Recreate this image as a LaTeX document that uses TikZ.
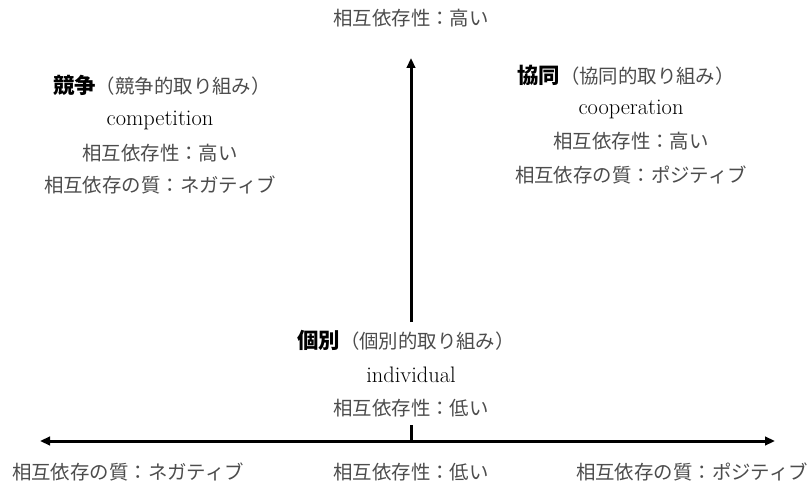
\documentclass[tikz,border=0pt]{standalone}
\usepackage{fontspec}
\newfontfamily\cjk{Noto Sans CJK JP}
\usetikzlibrary{arrows.meta}
\definecolor{jpgray}{gray}{0.3}
\begin{document}
\begin{tikzpicture}[x=1bp,y=-1bp,
  jp/.style={font=\cjk\fontsize{19.5}{22}\selectfont, text=jpgray, inner sep=0pt},
  en/.style={font=\fontsize{22.5}{26}\selectfont, text=black, inner sep=0pt},
  ttl/.style={font=\cjk\fontsize{19.5}{22}\selectfont, text=jpgray, inner sep=0pt},
  axis/.style={line width=3bp, draw=black},
  tip/.style={-{Triangle[length=10bp,width=8.5bp]}}]
\useasboundingbox (0,0) rectangle (811,484);
% top label
\node[jp] (top) at (411,18) {相互依存性：高い};
% competition
\node[ttl] (ct) at (162,85) {{\bfseries\color{black}\fontsize{21.5}{22}\selectfont 競争}（競争的取り組み）};
\node[en] (ce) at (160,120) {competition};
\node[jp] (ch) at (160,153) {相互依存性：高い};
\node[jp] (cq) at (160,185) {相互依存の質：ネガティブ};
% cooperation
\node[ttl] (pt) at (626,75) {{\bfseries\color{black}\fontsize{21.5}{22}\selectfont 協同}（協同的取り組み）};
\node[en] (pe) at (631,109) {cooperation};
\node[jp] (ph) at (631,141) {相互依存性：高い};
\node[jp] (pq) at (631,175) {相互依存の質：ポジティブ};
% individual
\node[ttl] (it) at (406,340) {{\bfseries\color{black}\fontsize{21.5}{22}\selectfont 個別}（個別的取り組み）};
\node[en] (ie) at (411,375) {individual};
\node[jp] (il) at (411,408) {相互依存性：低い};
% bottom labels
\node[jp] (bl) at (128,472) {相互依存の質：ネガティブ};
\node[jp] (bc) at (411,472) {相互依存性：低い};
\node[jp] (br) at (692,472) {相互依存の質：ポジティブ};
% axes
\coordinate (o) at (411,441);
\coordinate (lt) at (40,441);
\coordinate (rt) at (775,441);
\coordinate (tt) at (411,58);
\coordinate (gapb) at (411,425);
\coordinate (gapt) at (411,322);
\draw[axis,tip] (o) -- (lt);
\draw[axis,tip] (o) -- (rt);
\draw[axis] (o) -- (gapb);
\draw[axis,tip] (gapt) -- (tt);
\end{tikzpicture}
\end{document}
